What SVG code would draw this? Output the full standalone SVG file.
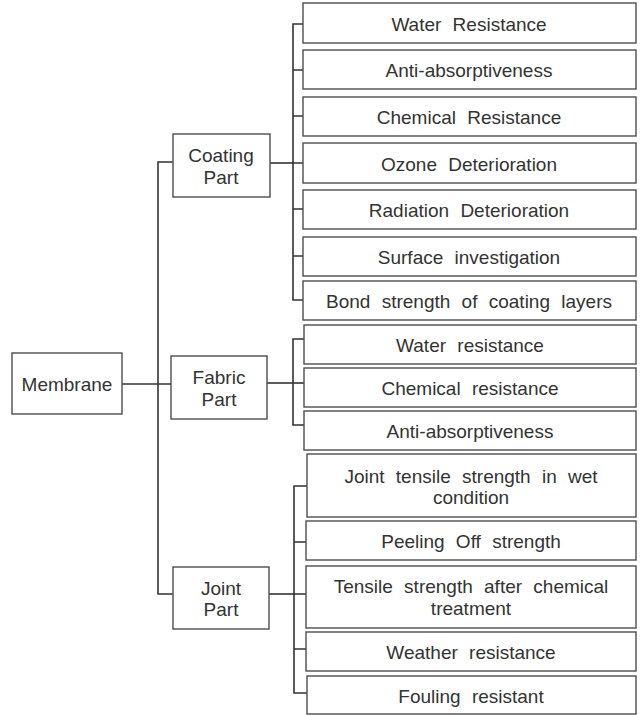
<svg xmlns="http://www.w3.org/2000/svg" width="641" height="715" viewBox="0 0 641 715">
  <style>
    .box { fill: #ffffff; stroke: #4d4d4d; stroke-width: 1.4; }
    .wire { fill: none; stroke: #333333; stroke-width: 1.6; }
    .lbl { font-family: "Liberation Sans", Arial, sans-serif; font-size: 19px; fill: #333333; text-anchor: middle; }
    .item { font-family: "Liberation Sans", Arial, sans-serif; font-size: 19px; fill: #333333; text-anchor: middle; word-spacing: 6px; }
  </style>
  <rect width="641" height="715" fill="#ffffff"/>

  <!-- connectors -->
  <g id="connectors" class="wire">
    <!-- main trunk -->
    <path d="M173 162 H158 V594 H173"/>
    <path d="M122 384 H171"/>
    <!-- coating branch -->
    <path d="M270 163 H293"/>
    <path d="M303 24 H293 V300 H303"/>
    <path d="M293 70 H303 M293 116 H303 M293 163 H303 M293 209 H303 M293 256 H303"/>
    <!-- fabric branch -->
    <path d="M267 383 H293"/>
    <path d="M304 339 H293 V425 H304"/>
    <path d="M293 383 H304"/>
    <!-- joint branch -->
    <path d="M269 594 H294"/>
    <path d="M307 486 H294 V693 H307"/>
    <path d="M294 542 H307 M294 594 H307 M294 649 H307"/>
  </g>

  <!-- root -->
  <g id="membrane">
    <rect class="box" x="12" y="353" width="110" height="61"/>
    <text class="lbl" x="67" y="391">Membrane</text>
  </g>

  <!-- second level -->
  <g id="coating-part">
    <rect class="box" x="173" y="134" width="97" height="63"/>
    <text class="lbl" x="221" y="162">Coating</text>
    <text class="lbl" x="221" y="184">Part</text>
  </g>
  <g id="fabric-part">
    <rect class="box" x="171" y="356" width="96" height="63"/>
    <text class="lbl" x="219" y="384">Fabric</text>
    <text class="lbl" x="219" y="406">Part</text>
  </g>
  <g id="joint-part">
    <rect class="box" x="173" y="567" width="96" height="62"/>
    <text class="lbl" x="221" y="595">Joint</text>
    <text class="lbl" x="221" y="616">Part</text>
  </g>

  <!-- coating items -->
  <g id="c-water">
    <rect class="box" x="303" y="3" width="333" height="40"/>
    <text class="item" x="469" y="31">Water Resistance</text>
  </g>
  <g id="c-anti">
    <rect class="box" x="303" y="50" width="333" height="39"/>
    <text class="item" x="469" y="77">Anti-absorptiveness</text>
  </g>
  <g id="c-chemical">
    <rect class="box" x="303" y="97" width="333" height="39"/>
    <text class="item" x="469" y="124">Chemical Resistance</text>
  </g>
  <g id="c-ozone">
    <rect class="box" x="303" y="143" width="333" height="40"/>
    <text class="item" x="469" y="171">Ozone Deterioration</text>
  </g>
  <g id="c-radiation">
    <rect class="box" x="303" y="190" width="333" height="39"/>
    <text class="item" x="469" y="217">Radiation Deterioration</text>
  </g>
  <g id="c-surface">
    <rect class="box" x="303" y="237" width="333" height="39"/>
    <text class="item" x="469" y="264">Surface investigation</text>
  </g>
  <g id="c-bond">
    <rect class="box" x="303" y="281" width="333" height="39"/>
    <text class="item" x="469" y="308">Bond strength of coating layers</text>
  </g>

  <!-- fabric items -->
  <g id="f-water">
    <rect class="box" x="304" y="325" width="332" height="39"/>
    <text class="item" x="470" y="352">Water resistance</text>
  </g>
  <g id="f-chemical">
    <rect class="box" x="304" y="368" width="332" height="39"/>
    <text class="item" x="470" y="395">Chemical resistance</text>
  </g>
  <g id="f-anti">
    <rect class="box" x="304" y="411" width="332" height="39"/>
    <text class="item" x="470" y="438">Anti-absorptiveness</text>
  </g>

  <!-- joint items -->
  <g id="j-wet">
    <rect class="box" x="307" y="454" width="329" height="63"/>
    <text class="item" x="471" y="483">Joint tensile strength in wet</text>
    <text class="item" x="471" y="504">condition</text>
  </g>
  <g id="j-peeling">
    <rect class="box" x="306" y="521" width="330" height="39"/>
    <text class="item" x="471" y="548">Peeling Off strength</text>
  </g>
  <g id="j-tensile">
    <rect class="box" x="306" y="566" width="330" height="62"/>
    <text class="item" x="471" y="593">Tensile strength after chemical</text>
    <text class="item" x="471" y="615">treatment</text>
  </g>
  <g id="j-weather">
    <rect class="box" x="306" y="632" width="330" height="39"/>
    <text class="item" x="471" y="659">Weather resistance</text>
  </g>
  <g id="j-fouling">
    <rect class="box" x="307" y="676" width="329" height="38"/>
    <text class="item" x="471" y="703">Fouling resistant</text>
  </g>
</svg>
